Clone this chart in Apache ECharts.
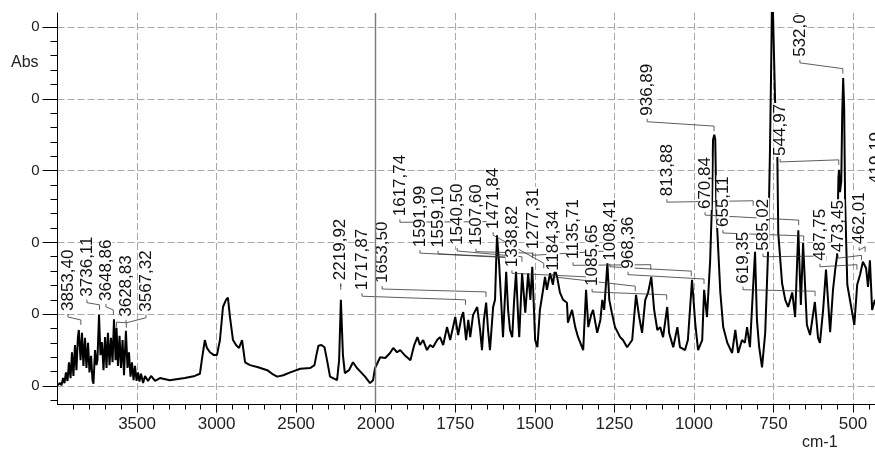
<!DOCTYPE html>
<html><head><meta charset="utf-8">
<script src="https://cdn.jsdelivr.net/npm/echarts@6/dist/echarts.min.js"></script>
<style>html,body{margin:0;padding:0;background:#fff}#c{width:875px;height:452px}</style>
</head><body><div id="c"></div>
<script>
// Spectrum (wavenumber in cm-1, absorbance)
const wavenumbers = [4000,3984,3975,3965,3956,3947,3937,3928,3918,3909,3900,3890,3881,3872,3866,3855,3846,3837,3827,3818,3808,3799,3789,3780,3774,3764,3755,3749,3739,3730,3720,3711,3701,3692,3683,3673,3664,3654,3645,3635,3629,3620,3610,3601,3591,3582,3570,3560,3551,3541,3532,3522,3513,3503,3494,3485,3475,3462,3450,3431,3412,3387,3356,3295,3200,3137,3105,3093,3074,3061,3042,3017,2998,2979,2960,2941,2929,2916,2897,2878,2859,2840,2821,2790,2739,2682,2651,2619,2581,2537,2474,2411,2385,2373,2360,2341,2322,2306,2287,2243,2230,2219,2206,2194,2168,2143,2118,2092,2067,2036,2017,2004,
1986,1970,1955,1945,1933,1923,1907,1891,1879,1869,1861,1851,1839,1829,1820,1807,1798,1788,1776,1766,1750,1741,1731,1725,1716,1709,1703,1694,1681,1672,1666,1660,1653,1647,1641,1634,1631,1625,1619,1612,1606,1600,1590,1584,1578,1571,1565,1559,1552,1549,1540,1530,1521,1514,1508,1499,1492,1484,1474,1468,1462,1452,1443,1437,1430,1421,1411,1399,1396,1383,1373,1364,1348,1339,1332,1323,1317,1304,1294,1288,1282,1272,1266,1258,1248,1232,1223,1210,1194,1182,1172,1163,1153,1144,1134,1125,1115,1106,1097,1084,1078,1065,1052,1044,1028,1019,1006,996,987,974,968,959,949,943,940,936,933,930,927,917,908,895,880,870,861,849,840,833,824,814,808,802,795,786,776,767,761,757,754,748,745,738,735,723,713,704,691,682,672,664,657,645,635,620,610,604,594,585,572,563,556,550,546,544,541,537,534,531,528,525,518,503,496,487,478,469,459,453,447,440,431];
const absorbance = [0.001,0.004,0.001,0.011,0.004,0.019,0.007,0.033,0.011,0.047,0.014,0.057,0.022,0.067,0.078,0.036,0.074,0.028,0.067,0.025,0.060,0.019,0.042,0.008,0.003,0.050,0.029,0.036,0.099,0.043,0.061,0.022,0.068,0.025,0.074,0.029,0.067,0.033,0.093,0.036,0.081,0.028,0.070,0.025,0.064,0.015,0.077,0.025,0.047,0.013,0.033,0.008,0.028,0.007,0.019,0.006,0.017,0.004,0.014,0.007,0.014,0.007,0.011,0.008,0.011,0.014,0.017,0.036,0.064,0.053,0.047,0.043,0.043,0.064,0.110,0.120,0.123,0.096,0.064,0.057,0.053,0.064,0.033,0.029,0.026,0.022,0.017,0.013,0.015,0.019,0.024,0.025,0.029,0.043,0.056,0.057,0.054,0.036,0.013,0.008,0.036,0.120,0.043,0.018,0.022,0.033,0.025,0.019,0.013,0.004,0.008,0.025,
0.040,0.039,0.046,0.053,0.047,0.050,0.042,0.036,0.057,0.068,0.057,0.064,0.050,0.057,0.054,0.064,0.068,0.057,0.082,0.064,0.096,0.071,0.095,0.103,0.064,0.092,0.068,0.099,0.110,0.078,0.050,0.092,0.116,0.078,0.050,0.092,0.110,0.120,0.210,0.169,0.120,0.068,0.159,0.106,0.078,0.068,0.120,0.159,0.092,0.068,0.157,0.102,0.157,0.120,0.166,0.064,0.054,0.106,0.134,0.152,0.134,0.157,0.141,0.162,0.152,0.130,0.120,0.116,0.088,0.106,0.082,0.068,0.050,0.134,0.082,0.099,0.106,0.074,0.092,0.120,0.106,0.171,0.120,0.102,0.082,0.068,0.064,0.054,0.064,0.127,0.096,0.074,0.120,0.130,0.152,0.106,0.078,0.082,0.068,0.110,0.074,0.054,0.082,0.054,0.050,0.064,0.148,0.088,0.050,0.064,0.134,0.096,0.175,0.259,0.343,0.350,0.343,0.259,0.220,0.130,0.082,0.060,0.046,0.078,0.046,0.064,0.060,0.082,0.054,0.138,0.187,0.092,0.054,0.026,0.074,0.187,0.329,0.454,0.565,0.565,0.398,0.325,0.213,0.143,0.120,0.110,0.130,0.096,0.217,0.113,0.199,0.085,0.071,0.117,0.067,0.060,0.106,0.162,0.075,0.134,0.162,0.182,0.290,0.301,0.270,0.285,0.380,0.429,0.390,0.259,0.141,0.103,0.085,0.141,0.155,0.173,0.164,0.138,0.175,0.106,0.120];

// Axis ticks
const xTickValues = [3500,3000,2500,2000,1750,1500,1250,1000,750,500];
const yTickValues = [0,0.1,0.2,0.3,0.4,0.5];
const yTickLabels = ['0','0','0','0','0','0'];

// Peak annotations
const peakWavenumbers = [3853.40,3736.11,3648.86,3628.83,3567.32,2219.92,1717.87,1653.50,1617.74,1591.99,1559.10,1540.50,1507.60,1471.84,1338.82,1277.31,1184.34,1135.71,1085.65,1008.41,968.36,936.89,813.88,670.84,655.11,619.35,585.02,544.97,532.09,487.75,473.45,462.01,419.19];
const peakLeaderEnds = [0.085,0.106,0.099,0.082,0.081,0.134,0.113,0.124,0.222,0.172,0.172,0.173,0.178,0.164,0.145,0.181,0.132,0.162,0.120,0.153,0.142,0.355,0.251,0.224,0.202,0.125,0.174,0.308,0.435,0.162,0.175,0.187,0.280];
// label placement (wavenumber, absorbance of label foot)
const labelAnchors = [[3934,0.103],[3815,0.123],[3695,0.117],[3569,0.095],[3444,0.102],[2219.92,0.146],[2086,0.132],[1980,0.142],[1924,0.235],[1861,0.192],[1804,0.191],[1744,0.195],[1685,0.194],[1631,0.217],[1572,0.164],[1506,0.189],[1443,0.159],[1380,0.175],[1320,0.138],[1264,0.173],[1207,0.162],[1147,0.375],[1085,0.263],[965,0.245],[909,0.220],[846,0.141],[783,0.187],[729,0.319],[667,0.457],[604,0.173],[547,0.185],[481,0.196],[428,0.280]];

const BREAK = 2000;
function toAxis(w){ return w > BREAK ? BREAK + (w - BREAK) / 2 : w; }
function fromAxis(t){ return t > BREAK ? BREAK + (t - BREAK) * 2 : t; }
const FONT = "'Liberation Sans', Arial, sans-serif";

const specData = wavenumbers.map((w, i) => [toAxis(w), absorbance[i]]);
const annData = peakWavenumbers.map((w, i) => [toAxis(w), peakLeaderEnds[i], toAxis(labelAnchors[i][0]), labelAnchors[i][1], i]);
const peakText = peakWavenumbers.map(w => w.toFixed(2).replace('.', ','));

const chart = echarts.init(document.getElementById('c'), null, {renderer: 'canvas'});
chart.setOption({
  animation: false,
  backgroundColor: '#fff',
  grid: {left: 57.5, right: 0, top: 13, bottom: 47.5, containLabel: false},
  xAxis: {
    type: 'value', inverse: true, min: toAxis(431), max: toAxis(4000), splitNumber: 5,
    axisLine: {show: true, onZero: false, lineStyle: {color: '#000', width: 1}},
    axisTick: {show: true, customValues: xTickValues.map(toAxis), length: 8, lineStyle: {color: '#000'}},
    minorTick: {show: true, splitNumber: 10, length: 5, lineStyle: {color: '#000'}},
    axisLabel: {customValues: xTickValues.map(toAxis), formatter: t => String(Math.round(fromAxis(t))), fontSize: 17, color: '#222', margin: 11, fontFamily: FONT},
    splitLine: {show: true, lineStyle: {color: '#a8a8a8', type: [7, 3], width: 1}}
  },
  yAxis: {
    type: 'value', min: -0.0258, max: 0.5195, splitNumber: 5,
    axisLine: {show: true, onZero: false, lineStyle: {color: '#000', width: 1}},
    axisTick: {show: true, customValues: yTickValues, length: 15, lineStyle: {color: '#000'}},
    minorTick: {show: true, splitNumber: 5, length: 7, lineStyle: {color: '#000'}},
    axisLabel: {customValues: yTickValues, formatter: v => { const k = yTickValues.findIndex(y => Math.abs(y - v) < 1e-6); return k >= 0 ? yTickLabels[k] : ''; }, fontSize: 15, color: '#222', margin: 18, fontFamily: FONT},
    splitLine: {show: true, lineStyle: {color: '#a8a8a8', type: [7, 3], width: 1}}
  },
  graphic: [
    {type: 'text', left: 11, top: 55, style: {text: 'Abs', fontSize: 16, fill: '#222', fontFamily: FONT}},
    {type: 'text', left: 802, top: 435, style: {text: 'cm-1', fontSize: 16, fill: '#222', fontFamily: FONT}}
  ],
  series: [
    {
      type: 'line', data: specData, showSymbol: false, symbol: 'none', z: 2,
      lineStyle: {color: '#000', width: 2}, clip: true,
      markLine: {silent: true, symbol: 'none', label: {show: false}, data: [{xAxis: toAxis(BREAK)}],
        lineStyle: {color: '#7a7a7a', type: 'solid', width: 1.4}}
    },
    {
      type: 'custom', data: annData, z: 3, clip: true, silent: true,
      renderItem: (params, api) => {
        const p = api.coord([api.value(0), api.value(1)]);
        const l = api.coord([api.value(2), api.value(3)]);
        return {type: 'polyline', shape: {points: [[l[0], l[1] + 2], [l[0], l[1] + 5], [p[0], p[1] - 5], [p[0], p[1]]]},
          style: {stroke: '#333', lineWidth: 0.8, fill: null}};
      }
    },
    {
      type: 'custom', data: annData, z: 4, clip: true, silent: true,
      renderItem: (params, api) => {
        const l = api.coord([api.value(2), api.value(3)]);
        return {type: 'text', x: l[0], y: l[1], rotation: Math.PI / 2,
          style: {text: peakText[params.dataIndex], fontSize: 17, fontFamily: FONT, fill: '#111',
            align: 'left', verticalAlign: 'middle', backgroundColor: '#fff', lineHeight: 13, padding: [0, 1, 0, 1]}};
      }
    }
  ]
});
</script></body></html>
